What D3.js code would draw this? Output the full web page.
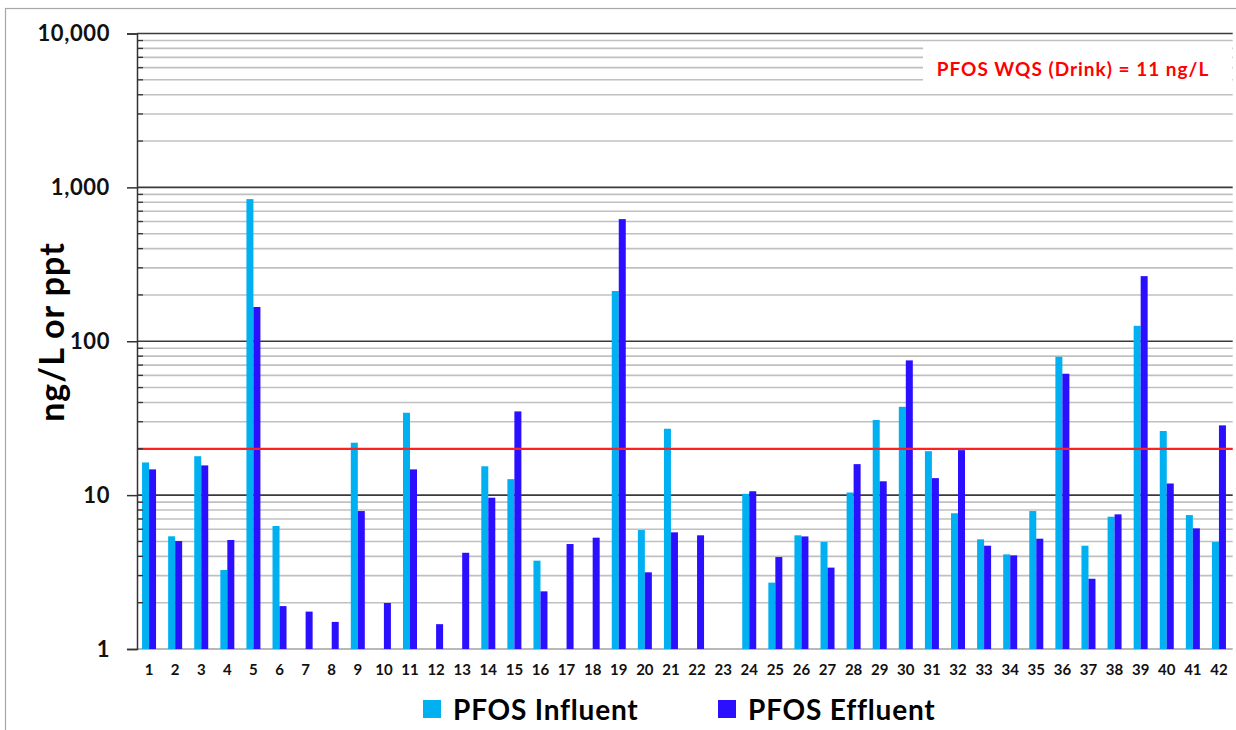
<!DOCTYPE html>
<html>
<head>
<meta charset="utf-8">
<script src="https://cdn.jsdelivr.net/npm/d3@7"></script>
<style>
  html, body { margin: 0; padding: 0; background: #fff; }
  svg { display: block; font-family: Lato, "Open Sans", sans-serif; }
</style>
</head>
<body>
<svg id="chart" width="1236" height="730"></svg>
<script>
const categories = d3.range(1, 43).map(String);
const influent = [16.3, 5.4, 17.9, 3.26, 839, 6.3, null, null, 21.9, null,
  34.3, null, null, 15.4, 12.7, 3.75, null, null, 212, 5.93,
  27.0, null, null, 10.2, 2.7, 5.48, 4.96, 10.4, 30.8, 37.5,
  19.3, 7.62, 5.16, 4.12, 7.88, 79.3, 4.69, 7.24, 126, 26.1,
  7.42, 4.96];
const effluent = [14.7, 5.03, 15.6, 5.11, 167, 1.9, 1.75, 1.5, 7.88, 1.99,
  14.7, 1.45, 4.22, 9.62, 35.0, 2.37, 4.81, 5.29, 622, 3.15,
  5.73, 5.48, null, 10.6, 3.96, 5.39, 3.38, 15.9, 12.3, 75.1,
  12.9, 19.6, 4.69, 4.06, 5.21, 61.5, 2.86, 7.5, 265, 11.9,
  6.08, 28.4];
const seriesNames = ["PFOS Influent", "PFOS Effluent"];
const seriesColors = ["#00b0f0", "#2a10ff"];
const yTickValues = [1, 10, 100, 1000, 10000];
const wqsValue = 20;
const wqsLabel = "PFOS WQS (Drink) = 11 ng/L";
const yTitle = "ng/L or ppt";

const svg = d3.select("#chart");
const plotLeft = 137, plotRight = 1232.7, plotTop = 33.5, plotBottom = 649;

// outer border
svg.append("rect").attr("x", 5.5).attr("y", 8.5).attr("width", 1260).attr("height", 760)
  .attr("fill", "none").attr("stroke", "#a6a6a6").attr("stroke-width", 1.2);

const y = d3.scaleLog().domain([1, 10000]).range([plotBottom, plotTop]);
const x = d3.scaleBand().domain(categories).range([136, 1232]).padding(0);
const xs = d3.scaleBand().domain([0, 1]).range([0, 14]);

// minor values
const minorVals = [];
for (let e = 0; e < 4; e++) for (let m = 2; m <= 9; m++) minorVals.push(m * Math.pow(10, e));

// minor gridlines
svg.append("g").selectAll("line").data(minorVals).join("line")
  .attr("x1", plotLeft).attr("x2", plotRight)
  .attr("y1", d => y(d)).attr("y2", d => y(d))
  .attr("stroke", "#c0c0c0").attr("stroke-width", 1.6);
// major gridlines
svg.append("g").selectAll("line").data(yTickValues.slice(1)).join("line")
  .attr("x1", plotLeft).attr("x2", plotRight)
  .attr("y1", d => y(d)).attr("y2", d => y(d))
  .attr("stroke", "#3a3a3a").attr("stroke-width", 1.6);
// baseline
svg.append("line").attr("x1", plotLeft).attr("x2", plotRight)
  .attr("y1", y(1)).attr("y2", y(1)).attr("stroke", "#a0a0a0").attr("stroke-width", 1.5);

// WQS label box covering gridlines
svg.append("rect").attr("x", 923).attr("y", 43).attr("width", 309).attr("height", 50).attr("fill", "#fff");
svg.append("text").attr("x", 1073).attr("y", 68).attr("text-anchor", "middle")
  .attr("dominant-baseline", "central").attr("fill", "#ff0000")
  .attr("font-size", 19).attr("font-weight", 700).attr("letter-spacing", 1).text(wqsLabel);

// bars
const series = [influent, effluent];
series.forEach((vals, si) => {
  svg.append("g").selectAll("rect")
    .data(vals.map((v, i) => ({ c: categories[i], v })).filter(d => d.v != null))
    .join("rect")
    .attr("x", d => x(d.c) + (x.bandwidth() - 14) / 2 + xs(si))
    .attr("width", xs.bandwidth())
    .attr("y", d => y(d.v))
    .attr("height", d => y(1) - y(d.v))
    .attr("fill", seriesColors[si]);
});

// WQS red line
svg.append("line").attr("x1", plotLeft).attr("x2", plotRight)
  .attr("y1", y(wqsValue)).attr("y2", y(wqsValue))
  .attr("stroke", "#ff2020").attr("stroke-width", 2.2);

// y axis
const yAxis = d3.axisLeft(y).tickValues(yTickValues).tickSize(10).tickPadding(17)
  .tickFormat(d3.format(","));
const ga = svg.append("g").attr("transform", `translate(${plotLeft},0)`).call(yAxis);
ga.select(".domain").attr("stroke", "#333").attr("stroke-width", 1.5);
ga.selectAll(".tick line").attr("stroke", "#333").attr("stroke-width", 1.5);
ga.selectAll(".tick text").attr("font-family", "Lato, sans-serif").attr("font-size", 22)
  .attr("font-weight", 700).attr("letter-spacing", 0.6).attr("fill", "#111");
// minor ticks inside
svg.append("g").selectAll("line").data(minorVals).join("line")
  .attr("x1", plotLeft).attr("x2", plotLeft + 6)
  .attr("y1", d => y(d)).attr("y2", d => y(d))
  .attr("stroke", "#333").attr("stroke-width", 1.3);

// x labels
const xAxis = d3.axisBottom(x).tickSize(0).tickPadding(15);
const gx = svg.append("g").attr("transform", `translate(0,${plotBottom})`).call(xAxis);
gx.select(".domain").remove();
gx.selectAll(".tick text").attr("font-family", "Lato, sans-serif").attr("font-size", 15)
  .attr("font-weight", 700).attr("fill", "#111");

// y title
svg.append("text").attr("transform", `translate(50,332) rotate(-90)`)
  .attr("text-anchor", "middle").attr("dominant-baseline", "central")
  .attr("font-size", 34).attr("font-weight", 700).attr("letter-spacing", 1)
  .attr("fill", "#000").text(yTitle);

// legend
const legendItems = [{ x: 423, tx: 453 }, { x: 718, tx: 748 }];
legendItems.forEach((it, i) => {
  svg.append("rect").attr("x", it.x).attr("y", 700).attr("width", 18).attr("height", 18)
    .attr("fill", seriesColors[i]);
  svg.append("text").attr("x", it.tx).attr("y", 709).attr("dominant-baseline", "central")
    .attr("font-size", 28).attr("font-weight", 700).attr("letter-spacing", 0.8)
    .attr("fill", "#000").text(seriesNames[i]);
});
</script>
</body>
</html>
